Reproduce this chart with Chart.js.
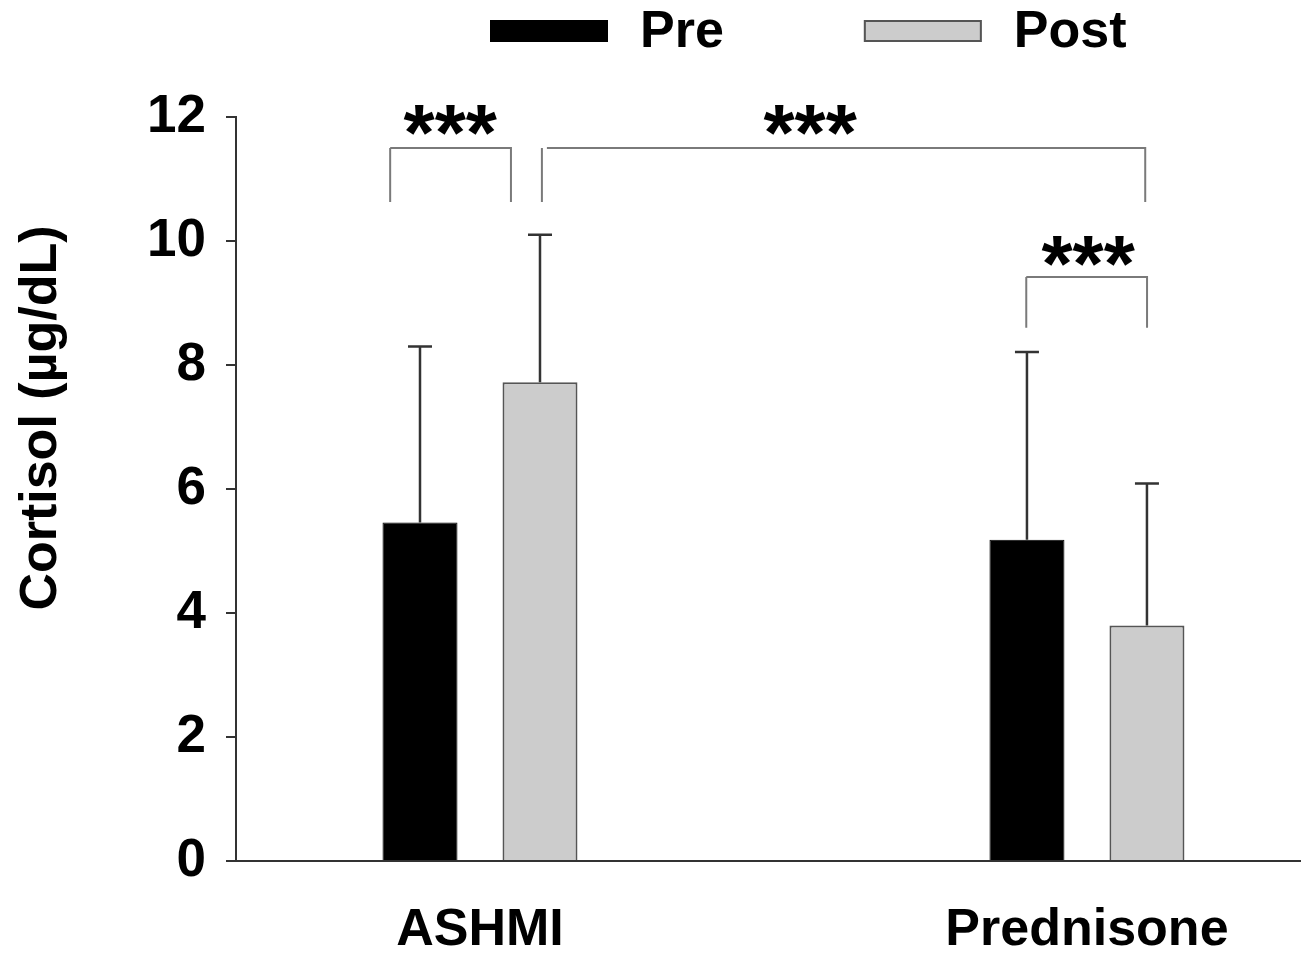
<!DOCTYPE html>
<html><head><meta charset="utf-8">
<script src="https://cdn.jsdelivr.net/npm/chart.js@4.4.1/dist/chart.umd.min.js"></script>
<style>html,body{margin:0;padding:0;background:#fff}canvas{display:block}</style>
</head><body>
<canvas id="c" width="1306" height="957"></canvas>
<script>
// ---- data ----
const categories = ['ASHMI', 'Prednisone'];
const categoryPositions = [1, 2];
const seriesNames = ['Pre', 'Post'];
const preMean = [5.46, 5.18];
const preSD = [2.84, 3.03];
const postMean = [7.72, 3.80];
const postSD = [2.38, 2.29];
const yTicks = [0, 2, 4, 6, 8, 10, 12];
const yTitle = 'Cortisol (\u00b5g/dL)';
// significance brackets: endpoints as [category index, offset in category units], heights in data units
const sigLabels = ['***', '***', '***'];
const bracketFrom = [[0, -0.148], [0, 0.102], [1, -0.100]];
const bracketTo = [[0, 0.051], [1, 0.096], [1, 0.099]];
const bracketTop = [11.5, 11.5, 9.42];
const bracketBottom = [10.63, 10.63, 8.6];
const starPos = [[0, -0.049], [0, 0.544], [1, 0.002]];
const starValue = [11.82, 11.82, 9.71];

const FONT = "'Liberation Sans', Arial, Helvetica, sans-serif";

const errorBars = {
  id: 'errorBars',
  afterDatasetsDraw(chart) {
    const ctx = chart.ctx;
    const y = chart.scales.y;
    ctx.save();
    ctx.strokeStyle = '#333';
    ctx.lineWidth = 2.5;
    chart.data.datasets.forEach((ds, di) => {
      const meta = chart.getDatasetMeta(di);
      meta.data.forEach((bar, i) => {
        const v = ds.data[i].y;
        const top = y.getPixelForValue(v + ds.sd[i]);
        ctx.beginPath();
        ctx.moveTo(bar.x, bar.y);
        ctx.lineTo(bar.x, top);
        ctx.moveTo(bar.x - 12, top);
        ctx.lineTo(bar.x + 12, top);
        ctx.stroke();
      });
    });
    ctx.restore();
  }
};

const annotations = {
  id: 'annotations',
  afterDraw(chart) {
    const ctx = chart.ctx;
    const xs = chart.scales.x, ys = chart.scales.y;
    const px = (p) => xs.getPixelForValue(categoryPositions[p[0]] + p[1]);
    ctx.save();
    ctx.strokeStyle = '#7a7a7a';
    ctx.lineWidth = 2;
    sigLabels.forEach((lab, i) => {
      const x1 = px(bracketFrom[i]), x2 = px(bracketTo[i]);
      const yt = ys.getPixelForValue(bracketTop[i]);
      const yb = ys.getPixelForValue(bracketBottom[i]);
      const gap = i === 1 ? 5 : 0;
      ctx.beginPath();
      ctx.moveTo(x1, yb); ctx.lineTo(x1, yt);
      ctx.moveTo(x1 + gap, yt); ctx.lineTo(x2, yt); ctx.lineTo(x2, yb);
      ctx.stroke();
      ctx.fillStyle = '#000';
      ctx.font = 'bold 80px ' + FONT;
      ctx.textAlign = 'center';
      ctx.textBaseline = 'alphabetic';
      ctx.fillText(lab, px(starPos[i]), ys.getPixelForValue(starValue[i]) + 32);
    });
    ctx.save();
    ctx.translate(42, 418);
    ctx.rotate(-Math.PI / 2);
    ctx.font = 'bold 52px ' + FONT;
    ctx.fillStyle = '#000';
    ctx.textAlign = 'center';
    ctx.textBaseline = 'middle';
    ctx.fillText(yTitle, 0, 0);
    ctx.restore();
    const boxW = 118, boxH = 22, gapText = 32, itemGap = 140;
    let lx = 490;
    const ly = 20;
    ctx.font = 'bold 52px ' + FONT;
    ctx.textAlign = 'left';
    ctx.textBaseline = 'middle';
    chart.data.datasets.forEach((ds) => {
      ctx.fillStyle = ds.backgroundColor;
      ctx.fillRect(lx, ly, boxW, boxH);
      ctx.strokeStyle = ds.borderColor;
      ctx.lineWidth = 2;
      ctx.strokeRect(lx + 1, ly + 1, boxW - 2, boxH - 2);
      ctx.fillStyle = '#000';
      const tx = lx + boxW + gapText;
      ctx.fillText(ds.label, tx, ly + boxH / 2 + 2);
      lx = tx + ctx.measureText(ds.label).width + itemGap;
    });
    ctx.restore();
  }
};

const toPoints = (arr) => arr.map((v, i) => ({ x: categoryPositions[i], y: v }));

new Chart(document.getElementById('c'), {
  type: 'bar',
  data: {
    datasets: [
      { label: seriesNames[0], data: toPoints(preMean), sd: preSD,
        backgroundColor: '#000000', borderColor: '#000000', borderWidth: 1 },
      { label: seriesNames[1], data: toPoints(postMean), sd: postSD,
        backgroundColor: '#cccccc', borderColor: '#555555', borderWidth: 2 }
    ]
  },
  options: {
    responsive: false,
    animation: false,
    categoryPercentage: 0.3954,
    barPercentage: 0.625,
    layout: { padding: { top: 117, right: 6, left: 0, bottom: 0 } },
    plugins: { legend: { display: false }, tooltip: { enabled: false } },
    scales: {
      x: {
        type: 'linear',
        offset: false,
        bounds: 'data',
        grace: 0,
        min: 0.598,
        max: 2.351,
        afterBuildTicks: (s) => { s.ticks = categoryPositions.map(v => ({ value: v })); },
        afterFit: (s) => { s.height = 96; },
        grid: { display: false, drawTicks: false, offset: false },
        border: { display: true, color: '#333', width: 2 },
        ticks: {
          padding: 44,
          color: '#000',
          font: { family: FONT, size: 52, weight: 'bold', lineHeight: 1 },
          callback: (v) => categories[categoryPositions.indexOf(v)] ?? ''
        }
      },
      y: {
        min: 0,
        max: 12,
        afterBuildTicks: (s) => { s.ticks = yTicks.map(v => ({ value: v })); },
        afterFit: (s) => { s.width = 236; },
        grid: { display: true, drawOnChartArea: false, drawTicks: true, tickLength: 10, color: '#333', lineWidth: 2 },
        border: { display: true, color: '#333', width: 2 },
        ticks: {
          padding: 20,
          color: '#000',
          font: { family: FONT, size: 53, weight: 'bold' }
        }
      }
    }
  },
  plugins: [errorBars, annotations]
});
</script>
</body></html>
